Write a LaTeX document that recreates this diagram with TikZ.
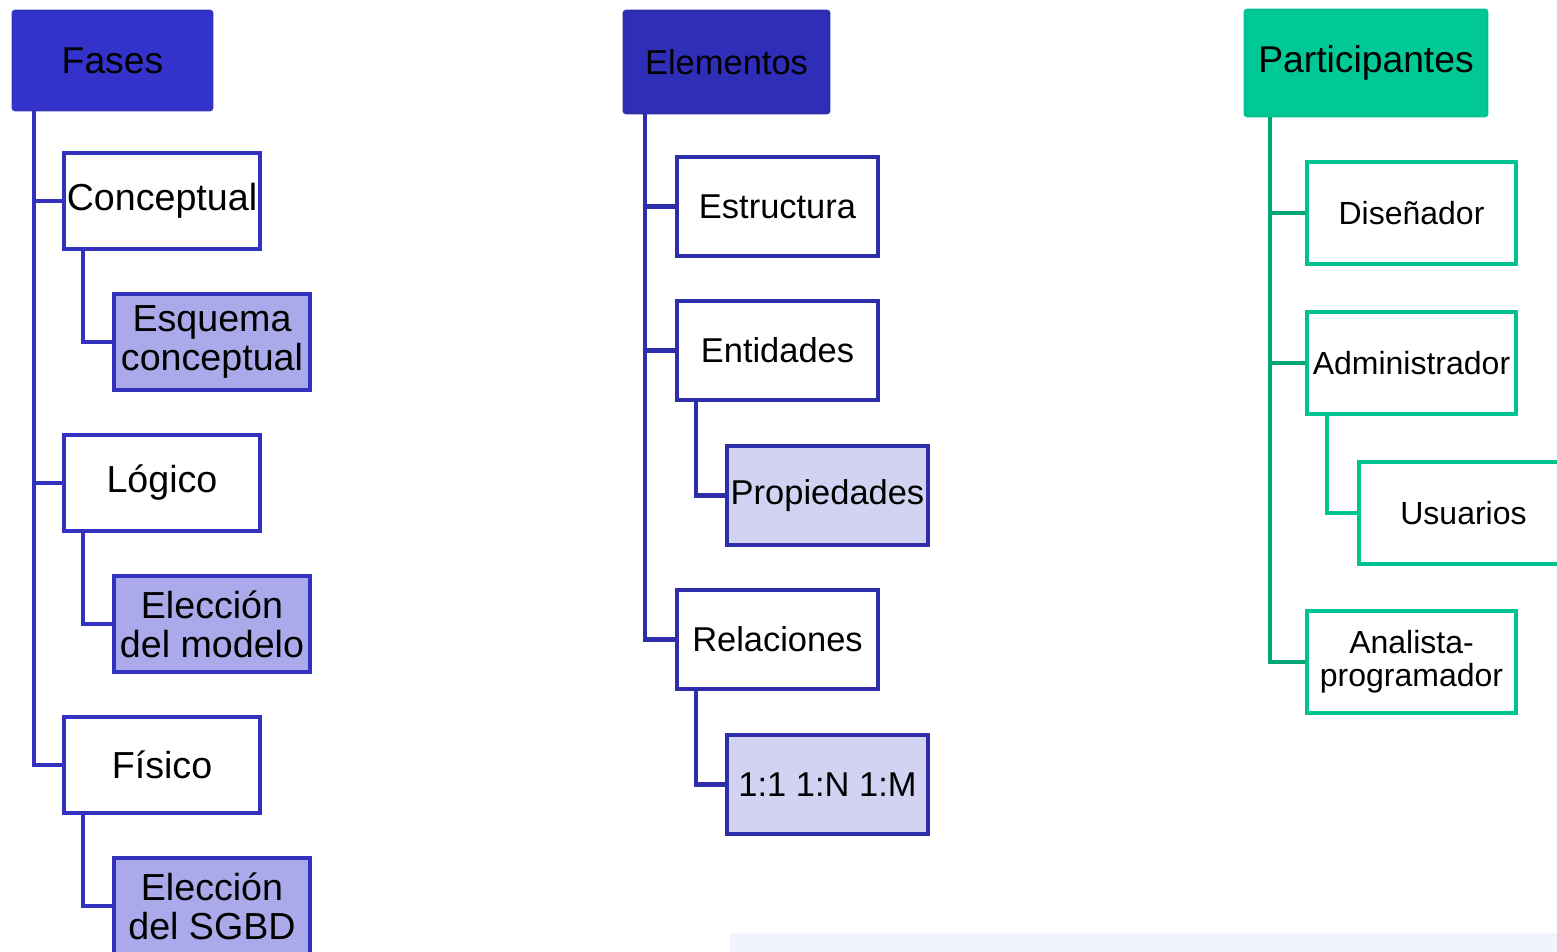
\documentclass[tikz,border=0pt]{standalone}
\usepackage{fontspec}
\setmainfont{Liberation Sans}
\usepackage{tikz}
\usetikzlibrary{positioning}

\definecolor{fhead}{RGB}{51,51,204}
\definecolor{fline}{RGB}{50,50,190}
\definecolor{fsub}{RGB}{170,170,235}
\definecolor{ehead}{RGB}{46,46,184}
\definecolor{eline}{RGB}{46,46,170}
\definecolor{esub}{RGB}{210,210,242}
\definecolor{phead}{RGB}{0,200,150}
\definecolor{pline}{RGB}{0,195,145}
\definecolor{ptrunk}{RGB}{0,165,120}
\definecolor{wave}{RGB}{240,245,253}

\tikzstyle{edge}=[
	-,
	line width=1.2pt
]
\tikzstyle{hdr}=[
	rectangle,
	draw,
	line width=0.7pt,
	rounded corners=0.6pt,
	inner sep=0mm
]
\tikzstyle{box}=[
	rectangle,
	draw,
	fill=white,
	line width=1.1pt,
	align=center,
	inner sep=0mm
]

\begin{document}
\begin{tikzpicture}[x=0.01cm, y=-0.01cm,
    fbox/.style={box, draw=fline, minimum width=1.96cm, minimum height=0.96cm,
                 font=\fontsize{10.7}{11}\selectfont},
    ebox/.style={box, draw=eline, minimum width=2.01cm, minimum height=0.99cm,
                 font=\fontsize{9.8}{10.5}\selectfont},
    pbox/.style={box, draw=pline, minimum width=2.09cm, minimum height=1.02cm,
                 font=\fontsize{9.1}{9.4}\selectfont}]
\clip (0,0) rectangle (1557,952);
\fill[wave] (730,933) rectangle (1557,952);

% Fases
\node[hdr, draw=fline, fill=fhead, minimum width=1.99cm, minimum height=0.99cm,
      font=\fontsize{10.6}{11}\selectfont] (fases) at (112.5,60.5) {Fases};
\node[fbox] (conc) at (162,201) {Conceptual};
\node[fbox, fill=fsub] (esq) at (212,342) {Esquema\\conceptual};
\node[fbox] (log) at (162,483) {Lógico};
\node[fbox, fill=fsub] (elmod) at (212,624) {Elección\\del modelo};
\node[fbox] (fis) at (162,765) {Físico};
\node[fbox, fill=fsub] (elsgbd) at (212,906) {Elección\\del SGBD};

% Elementos
\node[hdr, draw=eline, fill=ehead, minimum width=2.05cm, minimum height=1.02cm,
      font=\fontsize{9.8}{11}\selectfont] (elem) at (726.5,62) {Elementos};
\node[ebox] (estr) at (777.5,206.5) {Estructura};
\node[ebox] (ent) at (777.5,350.5) {Entidades};
\node[ebox, fill=esub] (prop) at (827.5,495.5) {Propiedades};
\node[ebox] (rel) at (777.5,639.5) {Relaciones};
\node[ebox, fill=esub] (card) at (827.5,784.5) {1:1 1:N 1:M};

% Participantes
\node[hdr, draw=pline, fill=phead, minimum width=2.42cm, minimum height=1.06cm,
      font=\fontsize{10.6}{11}\selectfont] (part) at (1366,63) {Participantes};
\node[pbox] (dis) at (1411.5,213) {Diseñador};
\node[pbox] (adm) at (1411.5,363) {Administrador};
\node[pbox] (usu) at (1463.5,513) {Usuarios};
\node[pbox] (ana) at (1411.5,662) {Analista-\\programador};

\foreach \pa/\ch/\dx/\col in {fases/conc/2.2/fline, fases/log/2.2/fline, fases/fis/2.2/fline,
    conc/esq/2.1/fline, log/elmod/2.1/fline, fis/elsgbd/2.1/fline,
    elem/estr/2.2/eline, elem/ent/2.2/eline, elem/rel/2.2/eline,
    ent/prop/2.1/eline, rel/card/2.1/eline,
    part/dis/2.6/ptrunk, part/adm/2.6/ptrunk, part/ana/2.6/ptrunk,
    adm/usu/2.2/pline}{
    \draw[edge, \col] ([xshift=\dx mm]\pa.south west) |- (\ch.west);
}

\end{tikzpicture}
\end{document}
